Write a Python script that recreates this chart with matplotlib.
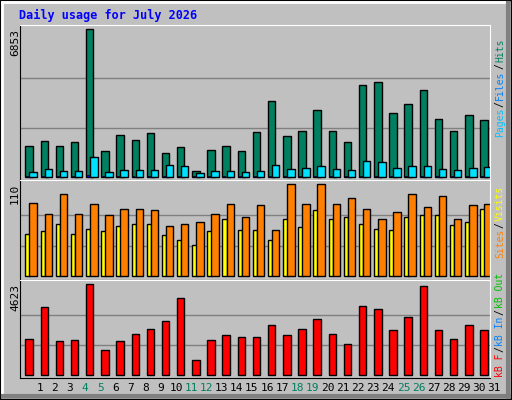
import matplotlib
matplotlib.use("Agg")
import matplotlib.pyplot as plt
from matplotlib.patches import Rectangle

days = list(range(1, 32))
weekends = [4, 5, 11, 12, 18, 19, 25, 26]

hits = [1411, 1643, 1411, 1597, 6853, 1178, 1922, 1690, 2016, 1085, 1364, 248, 1225, 1411, 1178, 2062,
        3504, 1876, 2109, 3085, 2109, 1597, 4248, 4388, 2946, 3364, 4016, 2667, 2109, 2853, 2620]
files = [202, 341, 248, 248, 899, 202, 295, 295, 295, 527, 481, 155, 248, 248, 202, 248,
         527, 341, 388, 481, 341, 295, 713, 667, 388, 481, 481, 341, 295, 388, 434]
pages = [40, 45, 40, 40, 60, 35, 40, 40, 45, 45, 40, 20, 40, 40, 35, 45,
         50, 40, 45, 45, 40, 40, 55, 55, 45, 50, 50, 45, 40, 45, 45]
visits = [51, 54, 62, 50, 57, 54, 60, 62, 63, 49, 44, 38, 54, 69, 55, 55,
          43, 68, 59, 79, 68, 71, 63, 56, 55, 71, 73, 73, 61, 65, 81]
sites = [88, 75, 98, 75, 86, 73, 81, 81, 79, 60, 62, 65, 74, 86, 71, 85,
         55, 110, 86, 110, 86, 94, 80, 69, 77, 99, 83, 96, 68, 85, 86]
kbytes = [1829, 3454, 1727, 1778, 4623, 1270, 1727, 2083, 2337, 2743, 3911, 762, 1778, 2032, 1930, 1930,
          2540, 2032, 2337, 2845, 2083, 1575, 3505, 3353, 2286, 2946, 4521, 2286, 1829, 2540, 2286]

W, H = 512, 400
BG = '#c0c0c0'
mono = 'DejaVu Sans Mono'

fig = plt.figure(figsize=(W / 100, H / 100), dpi=100)
fig.patch.set_facecolor(BG)

# bevelled outer frame
fa = fig.add_axes([0, 0, 1, 1])
fa.set_xlim(0, W)
fa.set_ylim(H, 0)
fa.axis('off')
fa.add_patch(Rectangle((0, 0), W - 1, H - 1, fill=False, ec='black', lw=1))
fa.plot([2, W - 4], [2, 2], color='white', lw=2)
fa.plot([2, 2], [2, H - 4], color='white', lw=2)
fa.plot([3, W - 3], [H - 4, H - 4], color='#808080', lw=3)
fa.plot([W - 4, W - 4], [3, H - 3], color='#808080', lw=3)
fa.text(19, 15, 'Daily usage for July 2026', color='#0000ff', fontsize=8.5,
        fontweight='bold', family=mono, va='center')


def panel(top, bottom, base, peak, vmax):
    # pixel geometry -> axes with data limits that keep baseline/peak in place
    ax = fig.add_axes([20 / W, (H - bottom) / H, 470 / W, (bottom - top) / H])
    s = (base - peak) / vmax
    ax.set_ylim(-(bottom - base) / s, vmax + (peak - top) / s)
    ax.set_xlim(0.5, 31.5)
    ax.set_facecolor(BG)
    for g in (vmax / 3, 2 * vmax / 3):
        ax.axhline(g, color='#808080', lw=1, zorder=0)
    ax.set_xticks([])
    ax.set_yticks([])
    for sp in ax.spines.values():
        sp.set_color('black')
    ax.spines['top'].set_color('white')
    ax.spines['right'].set_color('white')
    fa.text(15, top + 4, str(vmax), rotation=90, ha='center', va='top', fontsize=8, family=mono)
    return ax


ax1 = panel(24.5, 180, 176.7, 29.3, 6853)
ax1.bar([d - 0.144 for d in days], hits, width=0.49, align='edge', color='#008060', ec='black', lw=1)
ax1.bar([d - 0.1 for d in days], pages, width=0.15, align='edge', color='#0000ff', ec='black', lw=0.5)
ax1.bar([d + 0.122 for d in days], files, width=0.49, align='edge', color='#00e0ff', ec='black', lw=1)

ax2 = panel(180, 280, 276.3, 184.3, 110)
ax2.bar([d - 0.144 for d in days], visits, width=0.29, align='edge', color='#ffff00', ec='black', lw=1)
ax2.bar([d + 0.122 for d in days], sites, width=0.49, align='edge', color='#ff8000', ec='black', lw=1)

ax3 = panel(280, 378, 375.3, 284.3, 4623)
ax3.bar([d - 0.144 for d in days], kbytes, width=0.49, align='edge', color='#ff0000', ec='black', lw=1)

for d in days:
    x = 20 + (d - 0.5) / 31 * 470 + 12
    fa.text(x, 388, str(d), ha='center', va='center', fontsize=8, family=mono,
            color='#008060' if d in weekends else 'black')

renderer = fig.canvas.get_renderer()


def side(parts, y):
    # stacked rotated label on the right, reading bottom to top
    for txt, col in parts:
        t = fa.text(500, y, txt, rotation=90, ha='center', va='bottom', fontsize=7,
                    family=mono, color=col)
        y -= t.get_window_extent(renderer).height + 1


side([('Pages', '#00c0ff'), ('/', 'black'), ('Files', '#0080ff'), ('/', 'black'), ('Hits', '#008060')], 137)
side([('Sites', '#ff8000'), ('/', 'black'), ('Visits', '#ffff00')], 258)
side([('kB F', '#ff0000'), ('/', 'black'), ('kB In', '#0080ff'), ('/', 'black'), ('kB Out', '#00c000')], 377)

fig.savefig('out.png', dpi=100, facecolor=BG)
